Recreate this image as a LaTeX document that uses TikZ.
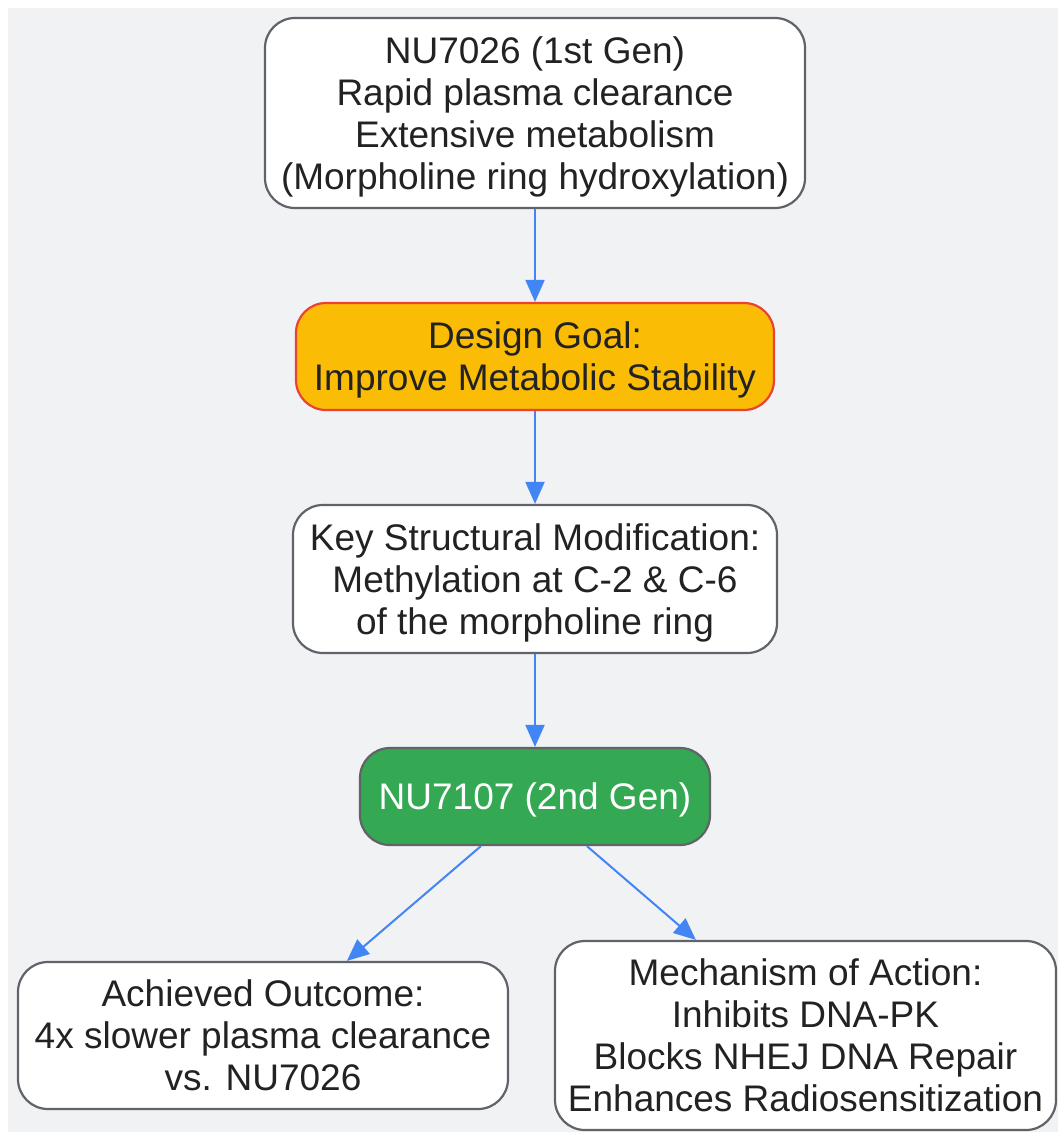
\documentclass[tikz,border=0pt]{standalone}
\usepackage{fontspec}
\setmainfont{Liberation Sans}
\usetikzlibrary{arrows.meta}
\definecolor{bggray}{HTML}{F1F2F4}
\definecolor{boxborder}{HTML}{606368}
\definecolor{txt}{HTML}{222222}
\definecolor{goalfill}{HTML}{FBBC05}
\definecolor{goalborder}{HTML}{EA4335}
\definecolor{greenfill}{HTML}{34A853}
\definecolor{arrowblue}{HTML}{4285F4}
\newcommand\mytop{\rule{0pt}{34pt}}
\newcommand\mybot{\rule[-8pt]{0pt}{8pt}}
\tikzset{
  box/.style={draw=boxborder, line width=2.2pt, fill=white, rounded corners=30pt,
    align=center, inner sep=0pt, text=txt,
    font=\fontsize{37}{42}\selectfont},
  goalbox/.style={box, fill=goalfill, draw=goalborder},
  greenbox/.style={box, fill=greenfill, text=white},
  arr/.style={draw=arrowblue, line width=2pt,
    -{Triangle[length=22pt,width=19pt]}},
}
\begin{document}
\begin{tikzpicture}[x=1pt,y=-1pt]
\useasboundingbox (0,0) rectangle (1058,1132);
\fill[bggray] (8,8) rectangle (1058,1132);

\node[box, minimum width=540pt, minimum height=190pt] (n1) at (535,113)
  {\mytop NU7026 (1st Gen)\\Rapid plasma clearance\\Extensive metabolism\\(Morpholine ring hydroxylation)\mybot};
\node[goalbox, minimum width=478pt, minimum height=107pt] (n2) at (535,356.5)
  {\mytop Design Goal:\\Improve Metabolic Stability\mybot};
\node[box, minimum width=484pt, minimum height=148pt] (n3) at (535,579)
  {\mytop Key Structural Modification:\\Methylation at C-2 \& C-6\\of the morpholine ring\mybot};
\node[greenbox, minimum width=350pt, minimum height=97pt] (n4) at (535,796.5)
  {\mytop NU7107 (2nd Gen)\mybot};
\node[box, minimum width=490pt, minimum height=147pt] (n5) at (263,1035.5)
  {\mytop Achieved Outcome:\\4x slower plasma clearance\\vs. NU7026\mybot};
\node[box, minimum width=501pt, minimum height=189pt] (n6) at (805.5,1035.5)
  {\mytop Mechanism of Action:\\Inhibits DNA-PK\\Blocks NHEJ DNA Repair\\Enhances Radiosensitization\mybot};

\draw[arr] (n1) -- (n2);
\draw[arr] (n2) -- (n3);
\draw[arr] (n3) -- (n4);
\draw[arr] ([xshift=122pt]n4.south west) -- ([xshift=330pt]n5.north west);
\draw[arr] ([xshift=228pt]n4.south west) -- ([xshift=142pt]n6.north west);
\end{tikzpicture}
\end{document}
